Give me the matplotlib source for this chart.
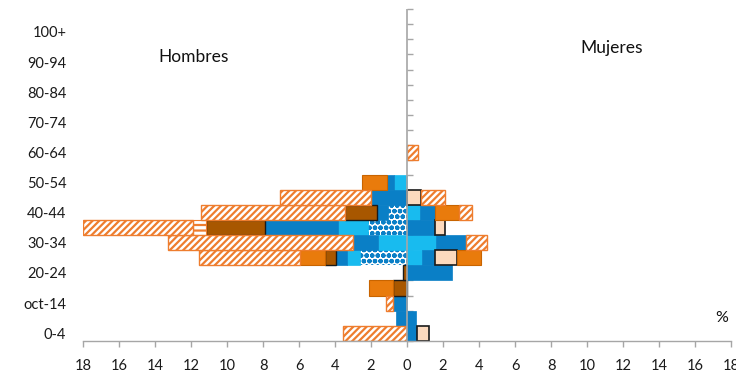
import matplotlib
matplotlib.use("Agg")
import matplotlib.pyplot as plt
import numpy as np

plt.rcParams["font.family"] = ["Lato", "DejaVu Sans"]
plt.rcParams["hatch.linewidth"] = 1.6

# age groups, bottom to top
grupos = ["0-4", "5-9", "oct-14", "15-19", "20-24", "25-29", "30-34", "35-39",
          "40-44", "45-49", "50-54", "55-59", "60-64", "65-69", "70-74", "75-79",
          "80-84", "85-89", "90-94", "95-99", "100+"]

# hombres (%), stacked from the centre outwards
h_punteado = [0, 0, 0, 0, 0, 2.6, 0, 2.15, 1.04, 0, 0, 0, 0, 0, 0, 0, 0, 0, 0, 0, 0]
h_celeste = [0, 0, 0, 0, 0, 0.71, 1.63, 1.7, 0, 0, 0.7, 0, 0, 0, 0, 0, 0, 0, 0, 0, 0]
h_azul = [0, 0.62, 0.8, 0, 0, 0.62, 1.39, 4.04, 0.64, 2.0, 0.43, 0, 0, 0, 0, 0, 0, 0, 0, 0, 0]
h_marron = [0, 0, 0, 0.8, 0.25, 0.61, 0, 3.29, 1.76, 0, 0, 0, 0, 0, 0, 0, 0, 0, 0, 0, 0]
h_naranja = [0, 0, 0, 1.31, 0, 1.39, 0, 0, 0, 0, 1.35, 0, 0, 0, 0, 0, 0, 0, 0, 0, 0]
h_rayas = [0, 0, 0, 0, 0, 0, 0, 0.69, 0, 0, 0, 0, 0, 0, 0, 0, 0, 0, 0, 0, 0]
h_diagonal = [3.57, 0, 0.38, 0, 0, 5.6, 10.24, 6.13, 8.02, 5.06, 0, 0, 0, 0, 0, 0, 0, 0, 0, 0, 0]

# mujeres (%)
m_celeste = [0, 0, 0, 0, 0, 0.83, 1.6, 0, 0.72, 0, 0, 0, 0, 0, 0, 0, 0, 0, 0, 0, 0]
m_azul = [0.58, 0.5, 0, 0, 2.48, 0.73, 1.68, 1.56, 0.84, 0, 0, 0, 0, 0, 0, 0, 0, 0, 0, 0, 0]
m_durazno = [0.62, 0, 0, 0, 0, 1.2, 0, 0.54, 0, 0.78, 0, 0, 0, 0, 0, 0, 0, 0, 0, 0, 0]
m_naranja = [0, 0, 0, 0, 0, 1.34, 0, 0, 1.34, 0, 0, 0, 0, 0, 0, 0, 0, 0, 0, 0, 0]
m_diagonal = [0, 0, 0, 0, 0, 0, 1.18, 0, 0.7, 1.32, 0, 0, 0.6, 0, 0, 0, 0, 0, 0, 0, 0]

AZUL = "#0A7FC6"
CELESTE = "#18BBEF"
NARANJA = "#E97B0C"
MARRON = "#A85700"
DURAZNO = "#FCDABE"
RAYA = "#EE7D2E"
GRIS = "#A6A6A6"

estilos = {
    "punteado": dict(color="white", edgecolor=AZUL, hatch="ooo", lw=0),
    "celeste": dict(color=CELESTE, edgecolor=CELESTE, lw=0.5),
    "azul": dict(color=AZUL, edgecolor=AZUL, lw=0.5),
    "durazno": dict(color=DURAZNO, edgecolor="#1a1a1a", lw=1.2),
    "marron": dict(color=MARRON, edgecolor="#1a1a1a", lw=1.0),
    "naranja": dict(color=NARANJA, edgecolor="#C86400", lw=0.8),
    "rayas": dict(color="white", edgecolor=RAYA, hatch="---", lw=0.8),
    "diagonal": dict(color="white", edgecolor=RAYA, hatch="/////", lw=1.0),
}

hombres = [("punteado", h_punteado), ("celeste", h_celeste), ("azul", h_azul),
           ("marron", h_marron), ("naranja", h_naranja), ("rayas", h_rayas),
           ("diagonal", h_diagonal)]
mujeres = [("celeste", m_celeste), ("azul", m_azul), ("durazno", m_durazno),
           ("naranja", m_naranja), ("diagonal", m_diagonal)]

fig = plt.figure(figsize=(7.36, 3.79), dpi=100)
ax = fig.add_axes([0.1128, 0.101, 0.8804, 0.8745])

y = np.arange(len(grupos))

def apilar(series, signo):
    base = np.zeros(len(grupos))
    for nombre, vals in series:
        vals = np.array(vals, dtype=float)
        m = vals > 0
        ax.barh(y[m], signo * vals[m], left=signo * base[m], height=1.0,
                zorder=2, **estilos[nombre])
        base += vals

apilar(hombres, -1)
apilar(mujeres, 1)

ax.set_xlim(-18, 18)
ax.set_ylim(-0.5, 21.5)

ticks_x = np.arange(-18, 19, 2)
ax.set_xticks(ticks_x)
ax.set_xticklabels([str(abs(t)) for t in ticks_x])

ax.set_yticks(y[::2])
ax.set_yticklabels(grupos[::2])

for s in ["left", "right", "top"]:
    ax.spines[s].set_visible(False)
ax.spines["bottom"].set_color(GRIS)
ax.spines["bottom"].set_linewidth(1.0)
ax.spines["bottom"].set_zorder(3)

ax.tick_params(axis="x", direction="out", length=4, width=1.0, color=GRIS,
               pad=9, labelsize=10.5, labelcolor="#1a1a1a")
ax.tick_params(axis="y", length=0, pad=12, labelsize=10.5, labelcolor="#1a1a1a")

# central vertical axis with ticks at the group boundaries
ax.axvline(0, color=GRIS, lw=1.2, zorder=4)
eje = ax.secondary_yaxis(0.5)
eje.set_yticks(np.arange(-0.5, 22, 1.0))
eje.set_yticklabels([])
for sp in eje.spines.values():
    sp.set_visible(False)
eje.tick_params(direction="out", length=4, width=1.0, color=GRIS)

ax.text(0.17, 0.856, "Hombres", transform=ax.transAxes, ha="center",
        va="center", fontsize=12.5, color="#111111")
ax.text(0.816, 0.883, "Mujeres", transform=ax.transAxes, ha="center",
        va="center", fontsize=12.5, color="#111111")
ax.text(0.986, 0.068, "%", transform=ax.transAxes, ha="center",
        va="center", fontsize=11.5, color="#111111")

fig.savefig("out.png", dpi=100)
